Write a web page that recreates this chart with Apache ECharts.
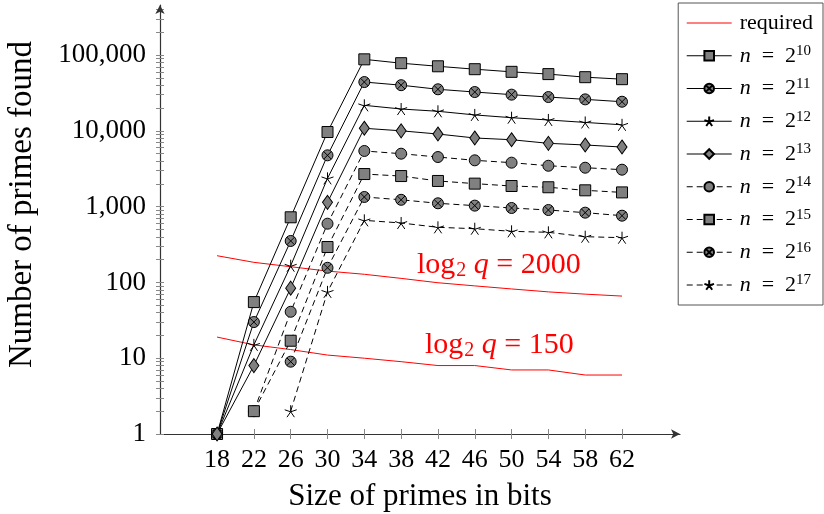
<!DOCTYPE html>
<html>
<head>
<meta charset="utf-8">
<script src="https://cdn.jsdelivr.net/npm/echarts@6/dist/echarts.min.js"></script>
<style>
  html, body { margin: 0; padding: 0; background: #fff; }
  #main { width: 824px; height: 514px; }
</style>
</head>
<body>
<div id="main"></div>
<script>
const bits = [18, 22, 26, 30, 34, 38, 42, 46, 50, 54, 58, 62];
const yLabels = [1, 10, 100, 1000, 10000, 100000];

const n10 = [1, 55, 723, 9640, 87700, 78000, 71000, 65000, 60000, 56000, 51000, 48000];
const n11 = [1, 30, 352, 4750, 44000, 40000, 35300, 32500, 30000, 27900, 26000, 24200];
const n12 = [1, 15, 166, 2360, 21700, 19400, 18100, 16200, 14900, 13900, 12900, 12000];
const n13 = [1, 8, 84, 1140, 10800, 10000, 9070, 8040, 7630, 6840, 6500, 6110];
const n14 = [null, 2, 41, 595, 5420, 4990, 4510, 4080, 3800, 3460, 3260, 3070];
const n15 = [null, 2, 17, 293, 2690, 2530, 2180, 2010, 1870, 1800, 1640, 1540];
const n16 = [null, null, 9, 156, 1340, 1230, 1106, 1030, 959, 902, 832, 759];
const n17 = [null, null, 2, 75, 659, 608, 533, 511, 472, 458, 401, 389];

const req2000 = [225, 184, 161, 141, 128, 113, 99, 90, 82, 75, 70, 66];
const req150 = [19, 15, 13, 11, 10, 9, 8, 8, 7, 7, 6, 6];

const font = 'Liberation Serif';
const gray = '#808080';

// marker shapes
const otimes = 'path://M-1,0 A1,1 0 1,0 1,0 A1,1 0 1,0 -1,0 Z M-0.707,-0.707 L0.707,0.707 M0.707,-0.707 L-0.707,0.707';
const star = 'path://M0,0 L0,-1 M0,0 L0.951,-0.309 M0,0 L0.588,0.809 M0,0 L-0.588,0.809 M0,0 L-0.951,-0.309';

// minor + major ticks for the log axis
const yTicks = [];
for (let d = 1; d <= 100000; d *= 10) {
  for (let k = 1; k <= 9; k++) yTicks.push(d * k);
}

function pairs(vals) {
  return bits.map((b, i) => [b, vals[i]]).filter(p => p[1] != null);
}

function primeSeries(name, vals, symbol, size, dashed) {
  return {
    name: name,
    type: 'line',
    data: pairs(vals),
    symbol: symbol,
    symbolSize: size,
    color: '#000',
    lineStyle: { color: '#000', width: 1, type: dashed ? [6, 4] : 'solid' },
    itemStyle: { color: symbol === star ? '#000' : gray, borderColor: '#000', borderWidth: 1 },
    z: 3
  };
}

function reqSeries(vals) {
  return {
    name: 'required',
    type: 'line',
    data: pairs(vals),
    showSymbol: false,
    color: '#ff0000',
    lineStyle: { color: '#ff0000', width: 1 },
    itemStyle: { opacity: 0 },
    z: 2
  };
}

function annot(left, top, q) {
  return {
    type: 'text',
    left: left,
    top: top,
    style: {
      text: '{a|log}{sub|2} {i|q} = ' + q,
      fill: '#ff0000',
      fontFamily: font,
      fontSize: 30,
      rich: {
        a: { fontFamily: font, fontSize: 30, fill: '#ff0000' },
        sub: { fontFamily: font, fontSize: 20, fill: '#ff0000', padding: [11, 0, 0, 1] },
        i: { fontFamily: font, fontSize: 30, fontStyle: 'italic', fill: '#ff0000' }
      }
    }
  };
}

const chart = echarts.init(document.getElementById('main'));

const option = {
  animation: false,
  grid: { left: 160, right: 144, top: 5, bottom: 80, outerBoundsMode: 'none', containLabel: false },
  legend: {
    orient: 'vertical',
    right: 1,
    top: 3,
    padding: [8, 10, 8, 8],
    itemGap: 8.75,
    itemWidth: 45,
    itemHeight: 12,
    borderColor: '#555',
    borderWidth: 1,
    selectedMode: false,
    lineStyle: { width: 1 },
    data: ['required', 'n = 2^10', 'n = 2^11', 'n = 2^12', 'n = 2^13',
      'n = 2^14', 'n = 2^15', 'n = 2^16', 'n = 2^17'],
    formatter: function (name) {
      return name.replace(/n = 2\^(\d+)/, '{i|n}  =  2{sup|$1}');
    },
    textStyle: {
      fontFamily: font, fontSize: 22, color: '#000', lineHeight: 24, padding: [0, 0, 0, 3],
      rich: {
        i: { fontFamily: font, fontStyle: 'italic', fontSize: 22, lineHeight: 24 },
        sup: { fontFamily: font, fontSize: 15, lineHeight: 14, verticalAlign: 'top' }
      }
    }
  },
  xAxis: [{
    type: 'value',
    min: 11.8,
    max: 68.3,
    name: 'Size of primes in bits',
    nameLocation: 'middle',
    nameGap: 47,
    nameTextStyle: { fontFamily: font, fontSize: 31, color: '#000' },
    axisLine: { onZero: false, symbol: ['none', 'arrow'], symbolSize: [7, 9], lineStyle: { color: '#333', width: 1.2 } },
    axisTick: { customValues: bits, length: 5, lineStyle: { color: '#888' } },
    axisLabel: { customValues: bits, margin: 13, fontFamily: font, fontSize: 26, color: '#000' },
    splitLine: { show: false }
  }, {
    type: 'value',
    min: 11.8,
    max: 68.3,
    position: 'top',
    offset: -429,
    axisLine: { show: false },
    axisTick: { customValues: bits, length: 5, lineStyle: { color: '#888' } },
    axisLabel: { show: false },
    splitLine: { show: false }
  }],
  yAxis: [{
    type: 'log',
    logBase: 10,
    min: 1,
    max: 457000,
    name: 'Number of primes found',
    nameLocation: 'middle',
    nameGap: 121,
    nameTextStyle: { fontFamily: font, fontSize: 33, color: '#000', padding: [0, 0, 0, 30] },
    axisLine: { onZero: false, symbol: ['none', 'arrow'], symbolSize: [7, 9], lineStyle: { color: '#333', width: 1.2 } },
    axisTick: { customValues: yTicks, length: 4, lineStyle: { color: '#888' } },
    axisLabel: {
      customValues: yLabels, margin: 14, fontFamily: font, fontSize: 27, color: '#000',
      formatter: v => Number(v).toLocaleString('en-US')
    },
    splitLine: { show: false }
  }, {
    type: 'log',
    logBase: 10,
    min: 1,
    max: 457000,
    position: 'right',
    offset: -520,
    axisLine: { show: false },
    axisTick: { customValues: yTicks, length: 4, lineStyle: { color: '#888' } },
    axisLabel: { show: false },
    splitLine: { show: false }
  }],
  graphic: [annot(417, 250, '2000'), annot(425, 330, '150')],
  series: [
    reqSeries(req2000),
    reqSeries(req150),
    primeSeries('n = 2^10', n10, 'rect', 11, false),
    primeSeries('n = 2^11', n11, otimes, 11, false),
    primeSeries('n = 2^12', n12, star, 12, false),
    primeSeries('n = 2^13', n13, 'diamond', [10, 14], false),
    primeSeries('n = 2^14', n14, 'circle', 11, true),
    primeSeries('n = 2^15', n15, 'rect', 11, true),
    primeSeries('n = 2^16', n16, otimes, 11, true),
    primeSeries('n = 2^17', n17, star, 12, true)
  ]
};

chart.setOption(option);
</script>
</body>
</html>
